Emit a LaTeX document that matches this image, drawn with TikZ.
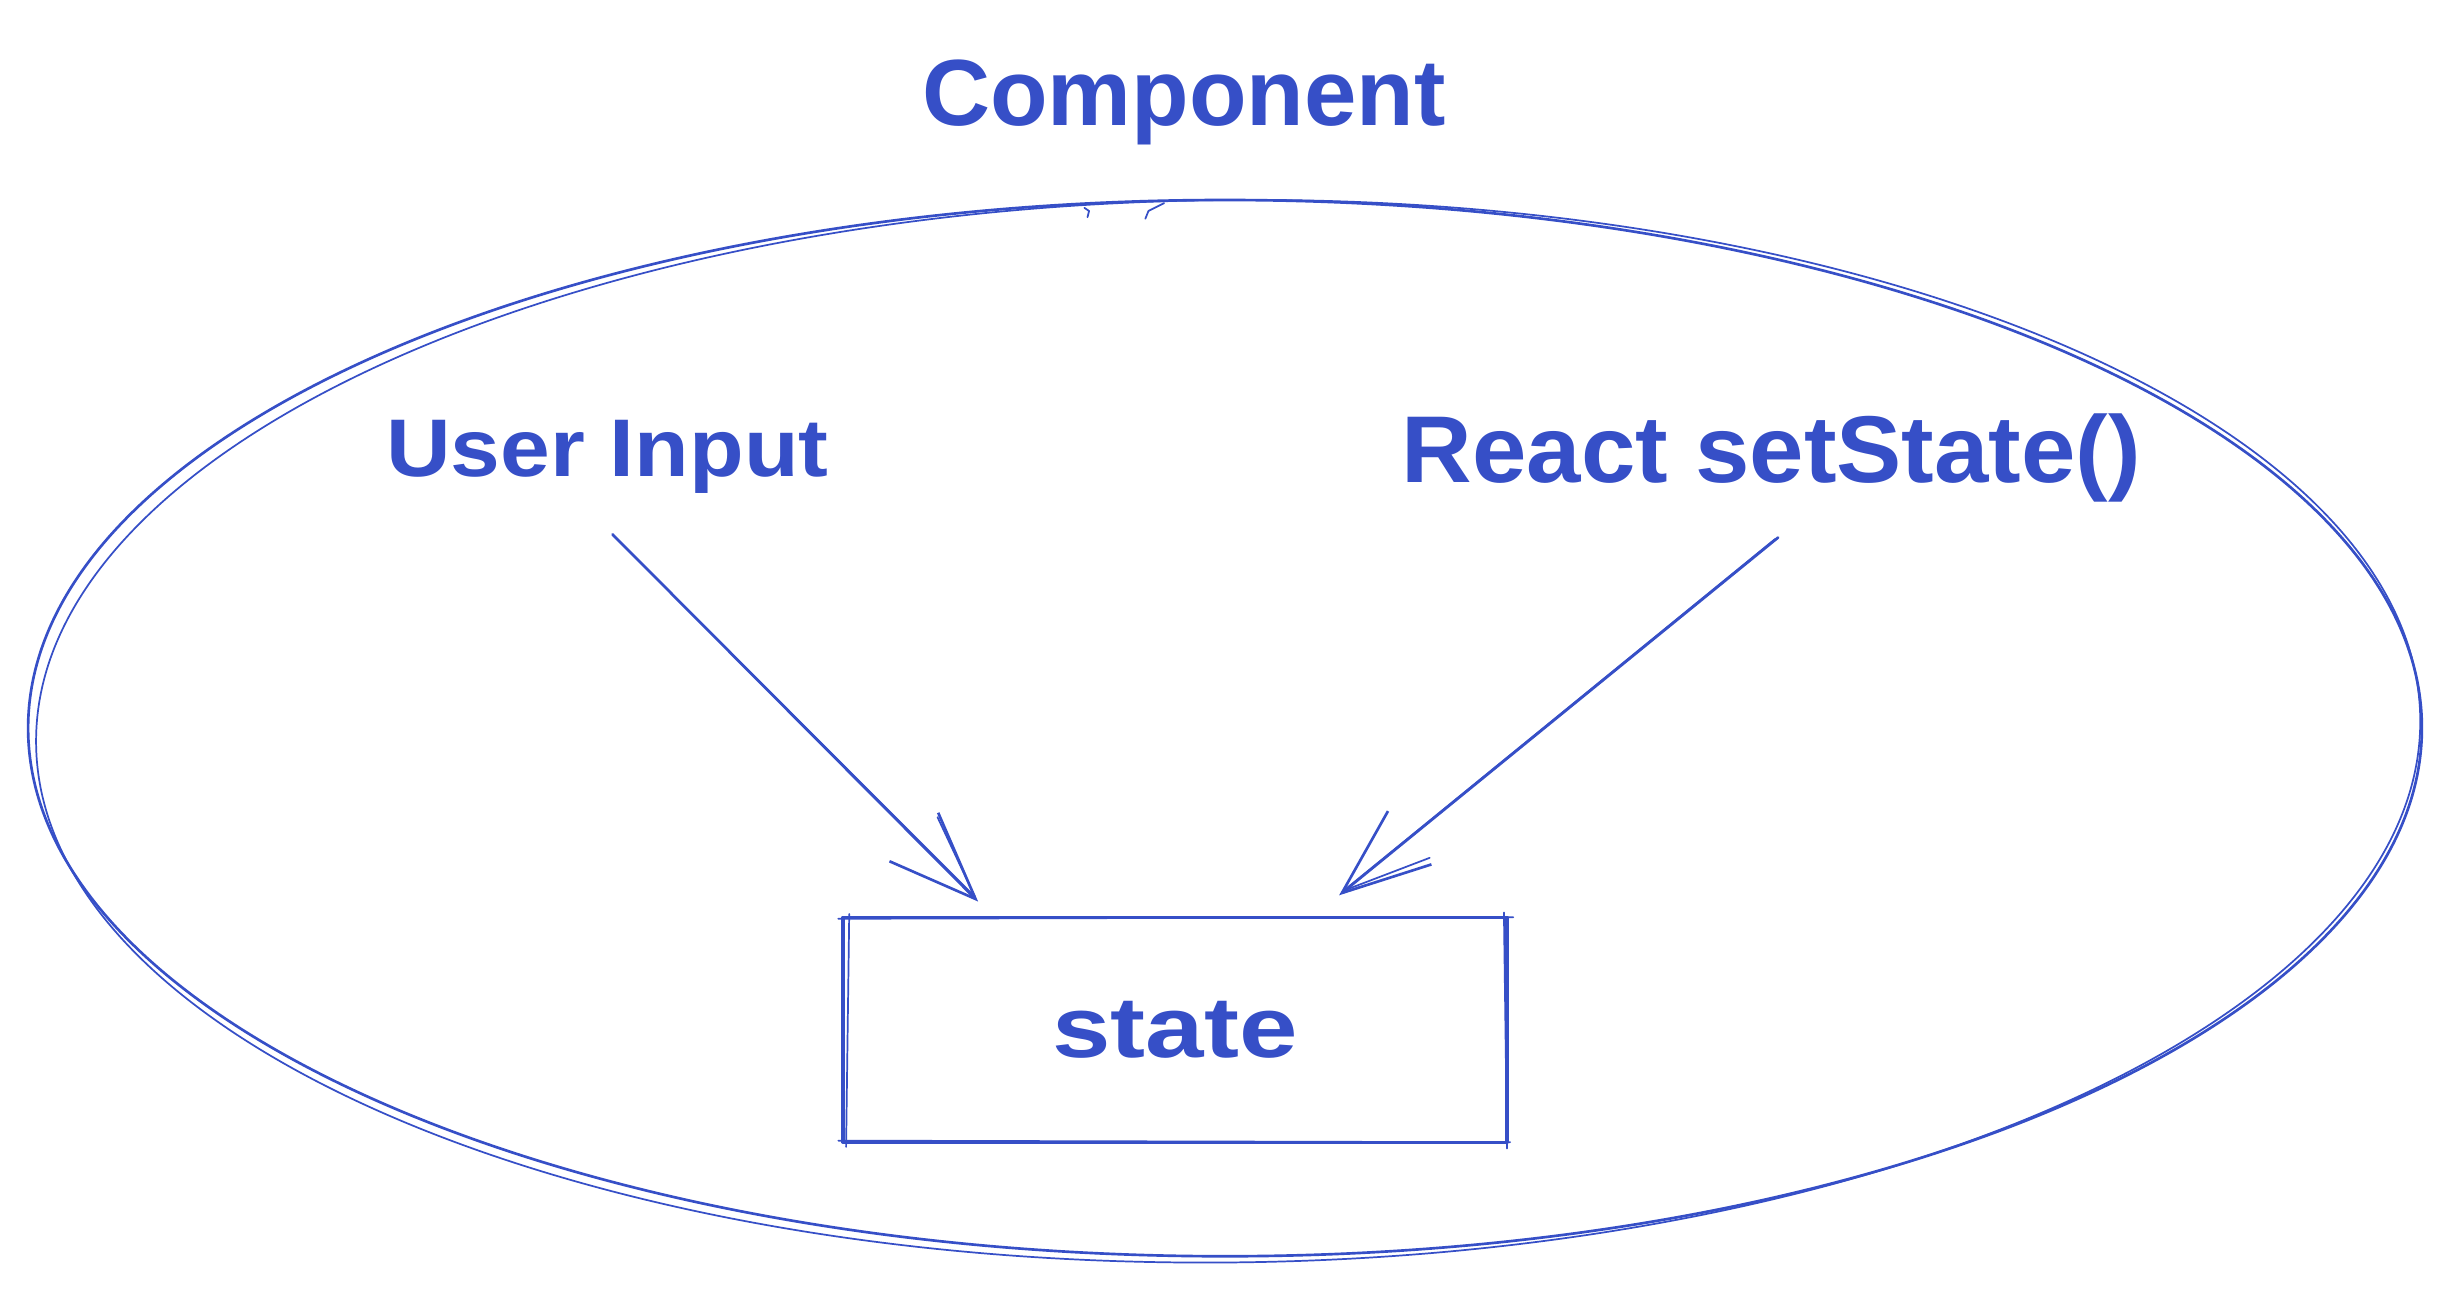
\documentclass[tikz,border=0pt]{standalone}
\usepackage{fontspec}
\setmainfont{Liberation Sans}
\usepackage{graphicx}
\usetikzlibrary{arrows.meta,calc,shapes.geometric}
\definecolor{ink}{HTML}{364FC7}
\begin{document}
\begin{tikzpicture}[x=1pt,y=-1pt,
  sk/.style={draw=ink, line width=1.7pt, line cap=round, line join=round},
  skthin/.style={draw=ink, line width=1.1pt, line cap=round, line join=round},
  lbl/.style={inner sep=0pt, text=ink, font=\bfseries},
  arr/.style={sk, -{Straight Barb[length=56pt,width=44pt]}}]
\useasboundingbox (0,0) rectangle (1568,827);
\fill[white] (0,0) rectangle (1568,827);

% component ellipse (two sketchy strokes)
\node[ellipse, sk, minimum width=1532, minimum height=676, inner sep=0] (comp) at (784,466) {};
\draw[skthin, rotate around={0.6:(784,466)}] (786,468) ellipse [x radius=763, y radius=340];
\draw[skthin] (694,133) -- (697,135) -- (696,139);
\draw[skthin] (733,140) -- (735,135) -- (745,130);

% labels
\node[lbl, anchor=base west] (title) at (590,80) {\resizebox{335pt}{42pt}{Component}};
\node[lbl, anchor=base west] (user) at (247,305) {\resizebox{283pt}{36pt}{User Input}};
\node[lbl, anchor=base west] (react) at (897,309) {\resizebox{473pt}{44pt}{React setState()}};

% state box
\node[sk, line width=2pt, minimum width=425, minimum height=144, inner sep=0, text=ink, font=\bfseries] (state) at (752,659) {\resizebox{157pt}{36pt}{state}};
\draw[skthin] ($(state.north west)+(5,-1)$) -- ($(state.south west)+(3,2)$);
\draw[skthin] ($(state.north east)+(-3,-2)$) -- ($(state.south east)+(-1,3)$);
\draw[skthin] ($(state.north west)+(-2,2)$) -- ($(state.north east)+(3,1)$);
\draw[skthin] ($(state.south west)+(-2,-2)$) -- ($(state.south east)+(1,-1)$);

% connectors
\coordinate (u1) at (392,342);
\coordinate (u2) at (626,577);
\coordinate (r1) at (1138,344);
\coordinate (r2) at (857,573);
\draw[arr] (u1) -- (u2);
\draw[skthin] ($(u1)+(1,1)$) -- ($(u2)+(-2,-3)$);
\draw[skthin] (600,523) -- (624,574);
\draw[arr] (r1) -- (r2);
\draw[skthin] ($(r1)+(-2,1)$) -- ($(r2)+(3,-3)$);
\draw[skthin] (915,549) -- (860,570);
\end{tikzpicture}
\end{document}
